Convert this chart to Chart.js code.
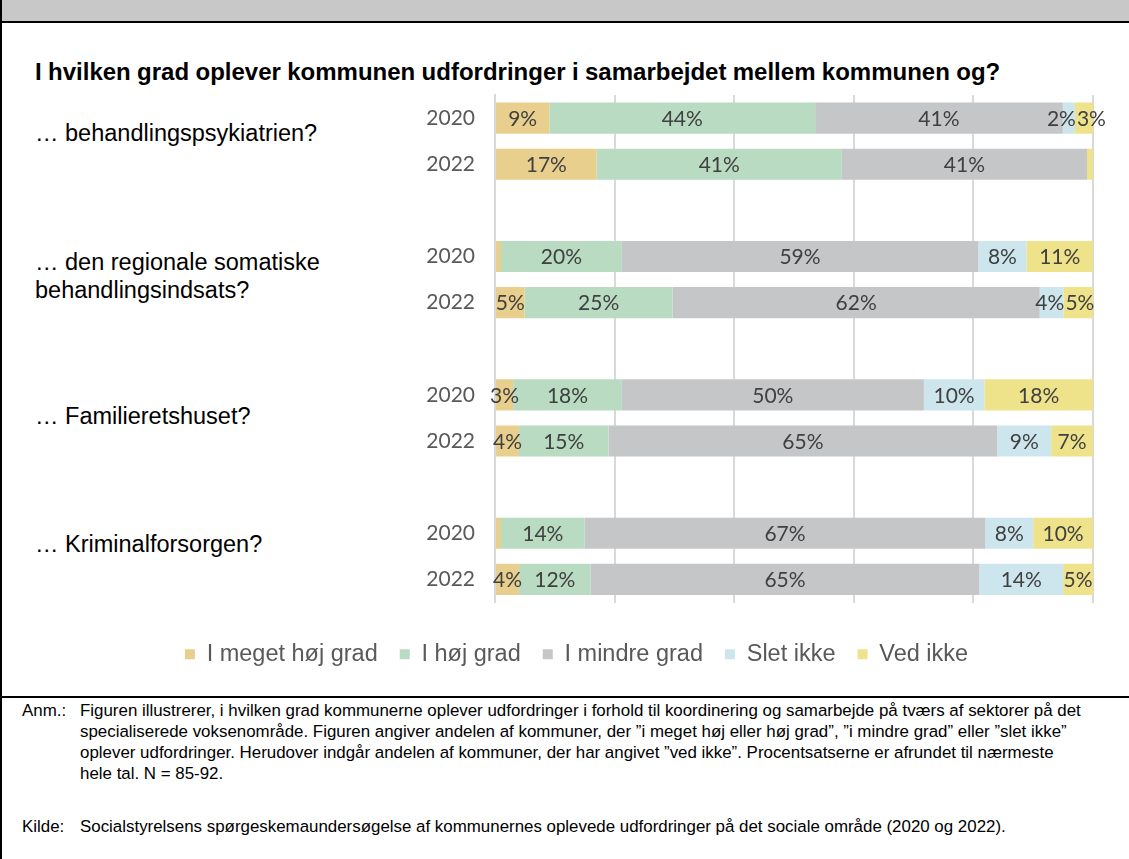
<!DOCTYPE html>
<html>
<head>
<meta charset="utf-8">
<script src="https://cdn.jsdelivr.net/npm/chart.js@4"></script>
<style>
  body { margin: 0; background: #fff; }
  #page { position: relative; width: 1129px; height: 859px; overflow: hidden; font-family: "Liberation Sans", Arial, sans-serif; }
  #band { position: absolute; left: 0; top: 0; width: 1129px; height: 21px; background: #c8c8c8; border-bottom: 2px solid #000; }
  #lborder { position: absolute; left: 0; top: 0; width: 2px; height: 859px; background: #000; }
  #sep { position: absolute; left: 0; top: 696px; width: 1129px; height: 2px; background: #000; }
  #title { position: absolute; left: 35px; top: 58px; font-weight: bold; font-size: 24px; color: #000; white-space: nowrap; word-spacing: -0.3px; }
  .grp { position: absolute; left: 35px; font-size: 23.5px; color: #000; line-height: 28px; white-space: nowrap; }
  #chart { position: absolute; left: 0; top: 0; }
  .note { position: absolute; font-size: 16.9px; color: #000; line-height: 21px; white-space: nowrap; }
</style>
</head>
<body>
<div id="page">
  <div id="band"></div>
  <div id="lborder"></div>
  <div id="title">I hvilken grad oplever kommunen udfordringer i samarbejdet mellem kommunen og?</div>
  <div class="grp" style="top:119px">… behandlingspsykiatrien?</div>
  <div class="grp" style="top:248px">… den regionale somatiske<br>behandlingsindsats?</div>
  <div class="grp" style="top:402px">… Familieretshuset?</div>
  <div class="grp" style="top:530px">… Kriminalforsorgen?</div>
  <canvas id="chart" width="1129" height="686"></canvas>
  <div id="sep"></div>
  <div class="note" style="left:22px;top:700px">Anm.:</div>
  <div class="note" style="left:80px;top:700px">Figuren illustrerer, i hvilken grad kommunerne oplever udfordringer i forhold til koordinering og samarbejde på tværs af sektorer på det<br>specialiserede voksenområde. Figuren angiver andelen af kommuner, der ”i meget høj eller høj grad”, ”i mindre grad” eller ”slet ikke”<br>oplever udfordringer. Herudover indgår andelen af kommuner, der har angivet ”ved ikke”. Procentsatserne er afrundet til nærmeste<br>hele tal. N = 85-92.</div>
  <div class="note" style="left:22px;top:816px">Kilde:</div>
  <div class="note" style="left:80px;top:816px">Socialstyrelsens spørgeskemaundersøgelse af kommunernes oplevede udfordringer på det sociale område (2020 og 2022).</div>
</div>
<script>
// rows: 2020/2022 per group, blank rows as spacers between groups
const rowLabels = ["2020", "2022", "", "2020", "2022", "", "2020", "2022", "", "2020", "2022"];
const seriesNames = ["I meget høj grad", "I høj grad", "I mindre grad", "Slet ikke", "Ved ikke"];
const seriesColors = ["#e8cf8e", "#b8dbc1", "#c5c6c8", "#cde6ee", "#eee38a"];

// values in percent, null = spacer row
const megetHoj = [9, 17, null, 1, 5, null, 3, 4, null, 1, 4];
const hoj      = [44, 41, null, 20, 25, null, 18, 15, null, 14, 12];
const mindre   = [41, 41, null, 59, 62, null, 50, 65, null, 67, 65];
const sletIkke = [2, 0, null, 8, 4, null, 10, 9, null, 8, 14];
const vedIkke  = [3, 1, null, 11, 5, null, 18, 7, null, 10, 5];

const raw = [megetHoj, hoj, mindre, sletIkke, vedIkke];
// 100% stacked, like the original: scale each row to its own total
const totals = rowLabels.map((_, i) => raw.reduce((s, arr) => s + (arr[i] || 0), 0));

const datasets = raw.map((arr, k) => ({
  label: seriesNames[k],
  data: arr.map((v, i) => v === null ? null : v / totals[i] * 100),
  raw: arr,
  backgroundColor: seriesColors[k],
  borderWidth: 0,
  barPercentage: 0.9,
  categoryPercentage: 0.75
}));

const labelPlugin = {
  id: "segLabels",
  afterDatasetsDraw(chart) {
    const ctx = chart.ctx;
    ctx.save();
    ctx.font = "21px Lato, 'Open Sans', sans-serif";
    ctx.fillStyle = "#404040";
    ctx.textAlign = "center";
    ctx.textBaseline = "middle";
    rowLabels.forEach((_, i) => {
      const items = [];
      chart.data.datasets.forEach((ds, k) => {
        const v = ds.raw[i];
        if (v === null || v < 2) return;
        const bar = chart.getDatasetMeta(k).data[i];
        const txt = v + "%";
        items.push({ txt, x: (bar.x + bar.base) / 2, w: ctx.measureText(txt).width, y: bar.y });
      });
      // push apart labels that would overlap inside a bar
      for (let j = 1; j < items.length; j++) {
        const a = items[j - 1], b = items[j];
        const over = (a.x + a.w / 2 + 1) - (b.x - b.w / 2);
        if (over > 0) { a.x -= over / 2; b.x += over / 2; }
      }
      items.forEach(it => ctx.fillText(it.txt, it.x, it.y + 1));
    });
    ctx.restore();
  }
};

new Chart(document.getElementById("chart"), {
  type: "bar",
  data: { labels: rowLabels, datasets: datasets },
  options: {
    indexAxis: "y",
    responsive: false,
    animation: false,
    layout: { padding: { left: 60, right: 36, top: 95, bottom: 10 } },
    scales: {
      x: {
        stacked: true,
        min: 0,
        max: 100,
        afterFit: (scale) => { scale.height = 18; },
        ticks: { display: false, stepSize: 20 },
        grid: { color: "#d9d9d9", lineWidth: 2, drawTicks: false },
        border: { display: false }
      },
      y: {
        stacked: true,
        afterFit: (scale) => { scale.width = 435; },
        ticks: { color: "#595959", font: { family: "Lato, 'Open Sans', sans-serif", size: 21 }, padding: 20 },
        grid: { display: false, drawTicks: false },
        border: { color: "#d9d9d9", width: 2 }
      }
    },
    plugins: {
      legend: {
        position: "bottom",
        labels: {
          boxWidth: 10,
          boxHeight: 10,
          padding: 22,
          color: "#595959",
          font: { family: "'Liberation Sans', Arial, sans-serif", size: 23.5 }
        }
      },
      tooltip: { enabled: false }
    }
  },
  plugins: [labelPlugin]
});
</script>
</body>
</html>
